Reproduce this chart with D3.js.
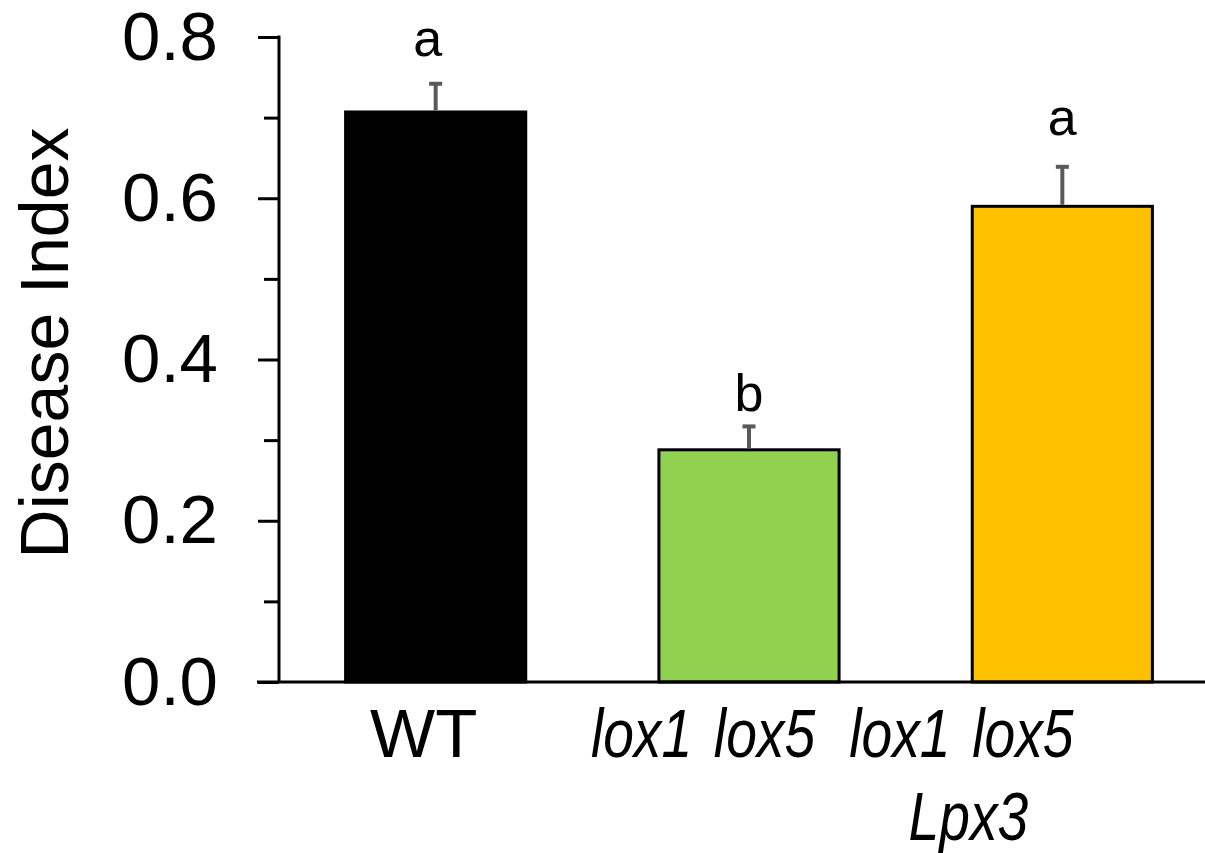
<!DOCTYPE html>
<html>
<head>
<meta charset="utf-8">
<script src="https://cdn.jsdelivr.net/npm/d3@7"></script>
<style>
  html, body { margin: 0; padding: 0; background: #fff; }
  svg text { font-family: "Liberation Sans", Arial, sans-serif; fill: #000; }
</style>
</head>
<body>
<div id="chart"></div>
<script>
// bar chart: disease index per genotype, SE bars + letters

const categories = ["WT", "lox1 lox5", "lox1 lox5 Lpx3"];
const labelLines = [["WT"], ["lox1 lox5"], ["lox1 lox5", "Lpx3"]];
const italicLabel = [false, true, true];
const values = [0.707, 0.288, 0.590];
const errors = [0.035, 0.029, 0.049];
const letters = ["a", "b", "a"];
const colors = ["#000000", "#92D050", "#FFC000"];
const majorTicks = [0, 0.2, 0.4, 0.6, 0.8];
const minorTicks = [0.1, 0.3, 0.5, 0.7];

const width = 1205;
const height = 853;

// manual nudges (the original labels were hand placed)
const labelDx = [-12, -46, -101];
const letterDx = [-8, 0, 0];
const letterGap = [28, 15, 32];

const svg = d3.select("#chart")
  .append("svg")
  .attr("width", width)
  .attr("height", height);

const x = d3.scaleBand()
  .domain(categories)
  .range([279, 1219])
  .paddingInner(0.425)
  .paddingOuter(0.2125);

const y = d3.scaleLinear().domain([0, 0.8]).range([682, 37]);

// y axis, major ticks with labels
const yAxis = svg.append("g")
  .attr("transform", "translate(279,0)")
  .call(d3.axisLeft(y).tickValues(majorTicks).tickSize(21).tickPadding(40)
    .tickFormat(d3.format(".1f")));
yAxis.select(".domain").remove();
yAxis.selectAll("line").attr("stroke", "#000").attr("stroke-width", 3);
yAxis.selectAll("text").style("font-size", "69px");

// minor ticks
const yMinor = svg.append("g")
  .attr("transform", "translate(279,0)")
  .call(d3.axisLeft(y).tickValues(minorTicks).tickSize(15).tickFormat(""));
yMinor.select(".domain").remove();
yMinor.selectAll("line").attr("stroke", "#000").attr("stroke-width", 3);

svg.append("line")
  .attr("x1", 279).attr("x2", 279)
  .attr("y1", y(0.8) - 1.5).attr("y2", y(0))
  .attr("stroke", "#000").attr("stroke-width", 3);

// bars
svg.selectAll("rect.bar")
  .data(values)
  .enter()
  .append("rect")
  .attr("class", "bar")
  .attr("x", (d, i) => x(categories[i]))
  .attr("y", (d) => y(d))
  .attr("width", x.bandwidth())
  .attr("height", (d) => y(0) - y(d))
  .attr("fill", (d, i) => colors[i])
  .attr("stroke", "#000")
  .attr("stroke-width", 3);

// x baseline
svg.append("line")
  .attr("x1", 257).attr("x2", width)
  .attr("y1", y(0)).attr("y2", y(0))
  .attr("stroke", "#000").attr("stroke-width", 3);

// error bars (upper only)
const err = svg.append("g").attr("stroke", "#595959").attr("stroke-width", 4);
values.forEach((v, i) => {
  const cx = x(categories[i]) + x.bandwidth() / 2;
  err.append("line")
    .attr("x1", cx).attr("x2", cx)
    .attr("y1", y(v) - 1.5).attr("y2", y(v + errors[i]));
  err.append("line")
    .attr("x1", cx - 6.5).attr("x2", cx + 6.5)
    .attr("y1", y(v + errors[i])).attr("y2", y(v + errors[i]));
});

// significance letters
svg.selectAll("text.letter")
  .data(letters)
  .enter()
  .append("text")
  .attr("class", "letter")
  .attr("x", (d, i) => x(categories[i]) + x.bandwidth() / 2 + letterDx[i])
  .attr("y", (d, i) => y(values[i] + errors[i]) - letterGap[i])
  .attr("text-anchor", "middle")
  .style("font-size", "52px")
  .text((d) => d);

// category labels (gene names set in a narrow italic)
labelLines.forEach((lines, i) => {
  const cx = x(categories[i]) + x.bandwidth() / 2 + labelDx[i];
  lines.forEach((line, j) => {
    const sx = italicLabel[i] ? 0.8 : 1;
    svg.append("text")
      .attr("transform", `translate(${cx + (j > 0 ? 7 : 0)},${757 + j * 83}) scale(${sx},1)`)
      .attr("text-anchor", "middle")
      .style("font-size", "69px")
      .style("font-style", italicLabel[i] ? "italic" : "normal")
      .style("word-spacing", italicLabel[i] ? "8px" : null)
      .text(line);
  });
});

// y title
svg.append("text")
  .attr("transform", "translate(68,343) rotate(-90)")
  .attr("text-anchor", "middle")
  .style("font-size", "68px")
  .text("Disease Index");
</script>
</body>
</html>
